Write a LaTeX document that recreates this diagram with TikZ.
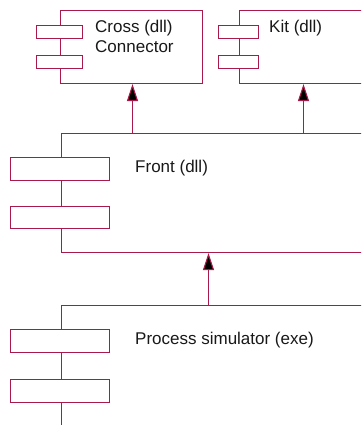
\documentclass[tikz,border=0pt]{standalone}
\usepackage{fontspec}
\setmainfont{Liberation Sans}
\usetikzlibrary{arrows.meta}
\definecolor{umlline}{RGB}{170,25,75}
\begin{document}
\begin{tikzpicture}[x=1pt,y=-1pt,
  comp/.style={draw=umlline,line width=1.1pt,fill=white,rectangle,inner sep=0pt,
    anchor=north west},
  port/.style={comp},
  lbl/.style={font=\fontsize{17}{20}\selectfont,inner sep=0pt,anchor=base west,
    text=black!90},
  dep/.style={draw=umlline,line width=1.1pt,
    -{Triangle[length=17pt,width=11pt,fill=black]}}]
\useasboundingbox (0,0) rectangle (361,425);
\clip (0,0) rectangle (361,425);

% component boxes
\node[comp,minimum width=142pt,minimum height=73pt] (cross) at (60,10) {};
\node[comp,minimum width=135pt,minimum height=73pt] (kit) at (239,10) {};
\node[comp,minimum width=330pt,minimum height=119pt] (front) at (61,133) {};
\node[comp,minimum width=330pt,minimum height=150pt] (proc) at (61,305) {};

% interface ports
\node[port,minimum width=46pt,minimum height=13pt] (cp1) at (36,25) {};
\node[port,minimum width=46pt,minimum height=13pt] (cp2) at (36,55) {};
\node[port,minimum width=40pt,minimum height=13pt] (kp1) at (218,25) {};
\node[port,minimum width=40pt,minimum height=13pt] (kp2) at (218,55) {};
\node[port,minimum width=99pt,minimum height=23pt] (fp1) at (10,157) {};
\node[port,minimum width=99pt,minimum height=22pt] (fp2) at (10,206) {};
\node[port,minimum width=99pt,minimum height=23pt] (pp1) at (10,329) {};
\node[port,minimum width=99pt,minimum height=23pt] (pp2) at (10,379) {};

% labels
\node[lbl] (crossa) at (95,32.7) {Cross (dll)};
\node[lbl] (crossb) at (95,52.7) {Connector};
\node[lbl] (kitl) at (269,32.7) {Kit (dll)};
\node[lbl] (frontl) at (135,172.7) {Front (dll)};
\node[lbl] (procl) at (135,344) {Process simulator (exe)};

% dependencies
\coordinate (d1) at (132.5,0);
\coordinate (d2) at (303.5,0);
\coordinate (d3) at (208.5,0);
\draw[dep] (front.north -| d1) -- (cross.south -| d1);
\draw[dep] (front.north -| d2) -- (kit.south -| d2);
\draw[dep] (proc.north -| d3) -- (front.south -| d3);
\end{tikzpicture}
\end{document}
